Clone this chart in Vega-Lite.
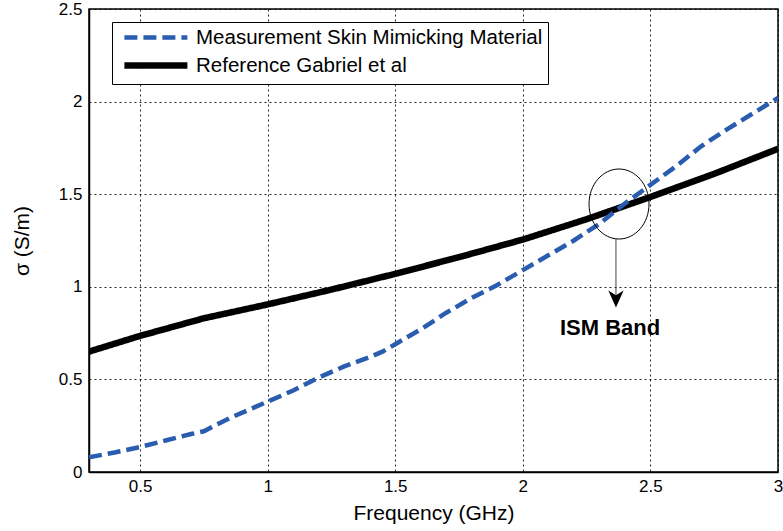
{
  "$schema": "https://vega.github.io/schema/vega-lite/v6.json",
  "width": 689,
  "height": 463,
  "autosize": "none",
  "padding": {"left": 89, "top": 9, "right": 5, "bottom": 59},
  "background": "white",
  "config": {
    "font": "Liberation Sans",
    "view": {"stroke": "black", "strokeWidth": 1.5},
    "axis": {
      "domainColor": "black",
      "domainWidth": 1.5,
      "gridColor": "black",
      "gridDash": [2, 3],
      "gridOpacity": 0.85,
      "gridWidth": 1,
      "ticks": false,
      "labelColor": "black",
      "labelFont": "Liberation Sans",
      "labelFontSize": 17,
      "titleColor": "black",
      "titleFont": "Liberation Sans",
      "titleFontWeight": "normal",
      "titleFontSize": 21
    }
  },
  "datasets": {
    "curves": [
      {"freq": 0.3, "sigma": 0.65, "series": "Reference Gabriel et al"},
      {"freq": 0.5, "sigma": 0.735, "series": "Reference Gabriel et al"},
      {"freq": 0.75, "sigma": 0.83, "series": "Reference Gabriel et al"},
      {"freq": 1.0, "sigma": 0.905, "series": "Reference Gabriel et al"},
      {"freq": 1.25, "sigma": 0.985, "series": "Reference Gabriel et al"},
      {"freq": 1.5, "sigma": 1.07, "series": "Reference Gabriel et al"},
      {"freq": 1.75, "sigma": 1.16, "series": "Reference Gabriel et al"},
      {"freq": 2.0, "sigma": 1.255, "series": "Reference Gabriel et al"},
      {"freq": 2.25, "sigma": 1.365, "series": "Reference Gabriel et al"},
      {"freq": 2.5, "sigma": 1.485, "series": "Reference Gabriel et al"},
      {"freq": 2.75, "sigma": 1.61, "series": "Reference Gabriel et al"},
      {"freq": 3.0, "sigma": 1.745, "series": "Reference Gabriel et al"},
      {"freq": 0.3, "sigma": 0.08, "series": "Measurement Skin Mimicking Material"},
      {"freq": 0.4, "sigma": 0.105, "series": "Measurement Skin Mimicking Material"},
      {"freq": 0.5, "sigma": 0.135, "series": "Measurement Skin Mimicking Material"},
      {"freq": 0.6, "sigma": 0.17, "series": "Measurement Skin Mimicking Material"},
      {"freq": 0.7, "sigma": 0.205, "series": "Measurement Skin Mimicking Material"},
      {"freq": 0.75, "sigma": 0.22, "series": "Measurement Skin Mimicking Material"},
      {"freq": 0.85, "sigma": 0.29, "series": "Measurement Skin Mimicking Material"},
      {"freq": 0.95, "sigma": 0.35, "series": "Measurement Skin Mimicking Material"},
      {"freq": 1.0, "sigma": 0.38, "series": "Measurement Skin Mimicking Material"},
      {"freq": 1.1, "sigma": 0.44, "series": "Measurement Skin Mimicking Material"},
      {"freq": 1.2, "sigma": 0.51, "series": "Measurement Skin Mimicking Material"},
      {"freq": 1.3, "sigma": 0.57, "series": "Measurement Skin Mimicking Material"},
      {"freq": 1.4, "sigma": 0.62, "series": "Measurement Skin Mimicking Material"},
      {"freq": 1.45, "sigma": 0.65, "series": "Measurement Skin Mimicking Material"},
      {"freq": 1.5, "sigma": 0.69, "series": "Measurement Skin Mimicking Material"},
      {"freq": 1.6, "sigma": 0.77, "series": "Measurement Skin Mimicking Material"},
      {"freq": 1.7, "sigma": 0.86, "series": "Measurement Skin Mimicking Material"},
      {"freq": 1.8, "sigma": 0.94, "series": "Measurement Skin Mimicking Material"},
      {"freq": 1.9, "sigma": 1.01, "series": "Measurement Skin Mimicking Material"},
      {"freq": 2.0, "sigma": 1.09, "series": "Measurement Skin Mimicking Material"},
      {"freq": 2.1, "sigma": 1.17, "series": "Measurement Skin Mimicking Material"},
      {"freq": 2.2, "sigma": 1.25, "series": "Measurement Skin Mimicking Material"},
      {"freq": 2.3, "sigma": 1.34, "series": "Measurement Skin Mimicking Material"},
      {"freq": 2.4, "sigma": 1.45, "series": "Measurement Skin Mimicking Material"},
      {"freq": 2.5, "sigma": 1.55, "series": "Measurement Skin Mimicking Material"},
      {"freq": 2.6, "sigma": 1.65, "series": "Measurement Skin Mimicking Material"},
      {"freq": 2.7, "sigma": 1.76, "series": "Measurement Skin Mimicking Material"},
      {"freq": 2.8, "sigma": 1.85, "series": "Measurement Skin Mimicking Material"},
      {"freq": 2.9, "sigma": 1.935, "series": "Measurement Skin Mimicking Material"},
      {"freq": 3.0, "sigma": 2.02, "series": "Measurement Skin Mimicking Material"}
    ],
    "ellipse": [{"freq": 2.377, "sigma": 1.447}],
    "arrow": [{"freq": 2.365, "top": 1.258, "bottom": 0.9}],
    "head": [{"freq": 2.365, "sigma": 0.934}],
    "label": [{"freq": 2.342, "sigma": 0.778, "text": "ISM  Band"}]
  },
  "layer": [
    {
      "data": {"name": "curves"},
      "mark": {"type": "line", "strokeCap": "butt", "clip": true},
      "encoding": {
        "x": {
          "field": "freq",
          "type": "quantitative",
          "scale": {"domain": [0.3, 3], "nice": false, "zero": false},
          "axis": {"values": [0.5, 1, 1.5, 2, 2.5, 3], "format": "~g", "title": "Frequency (GHz)", "labelPadding": 6, "titlePadding": 8, "labelFlush": false}
        },
        "y": {
          "field": "sigma",
          "type": "quantitative",
          "scale": {"domain": [0, 2.5], "nice": false},
          "axis": {"values": [0, 0.5, 1, 1.5, 2, 2.5], "format": "~g", "title": "σ (S/m)", "labelPadding": 7, "titlePadding": 26, "labelFlush": false}
        },
        "color": {
          "field": "series",
          "type": "nominal",
          "sort": ["Measurement Skin Mimicking Material", "Reference Gabriel et al"],
          "scale": {"domain": ["Measurement Skin Mimicking Material", "Reference Gabriel et al"], "range": ["#2a5db0", "#000000"]},
          "legend": {
            "title": null,
            "orient": "none",
            "legendX": 23,
            "legendY": 13,
            "fillColor": "white",
            "strokeColor": "black",
            "padding": 5,
            "symbolType": "M -0.52 0 L 7.48 0",
            "symbolSize": 248,
            "labelOffset": 56,
            "labelFontSize": 20.5,
            "labelColor": "black",
            "labelLimit": 600,
            "rowPadding": 4
          }
        },
        "strokeDash": {
          "field": "series",
          "type": "nominal",
          "scale": {"domain": ["Measurement Skin Mimicking Material", "Reference Gabriel et al"], "range": [[13, 6], [1, 0]]},
          "legend": null
        },
        "strokeWidth": {
          "field": "series",
          "type": "nominal",
          "scale": {"domain": ["Measurement Skin Mimicking Material", "Reference Gabriel et al"], "range": [4.5, 6.5]},
          "legend": null
        }
      }
    },
    {
      "data": {"name": "ellipse"},
      "mark": {"type": "point", "shape": "M -0.857 0 A 0.857 1 0 1 0 0.857 0 A 0.857 1 0 1 0 -0.857 0", "size": 4900, "filled": false, "stroke": "black", "strokeWidth": 1, "opacity": 1},
      "encoding": {"x": {"field": "freq", "type": "quantitative"}, "y": {"field": "sigma", "type": "quantitative"}}
    },
    {
      "data": {"name": "arrow"},
      "mark": {"type": "rule", "color": "#444444", "strokeWidth": 1},
      "encoding": {"x": {"field": "freq", "type": "quantitative"}, "y": {"field": "top", "type": "quantitative"}, "y2": {"field": "bottom"}}
    },
    {
      "data": {"name": "head"},
      "mark": {"type": "point", "shape": "M -0.9 -1 L 0 1 L 0.9 -1 L 0 -0.45 Z", "size": 289, "filled": true, "color": "black", "opacity": 1},
      "encoding": {"x": {"field": "freq", "type": "quantitative"}, "y": {"field": "sigma", "type": "quantitative"}}
    },
    {
      "data": {"name": "label"},
      "mark": {"type": "text", "font": "Liberation Sans", "fontWeight": "bold", "fontSize": 22, "color": "black", "align": "center", "baseline": "middle"},
      "encoding": {"x": {"field": "freq", "type": "quantitative"}, "y": {"field": "sigma", "type": "quantitative"}, "text": {"field": "text"}}
    }
  ]
}
